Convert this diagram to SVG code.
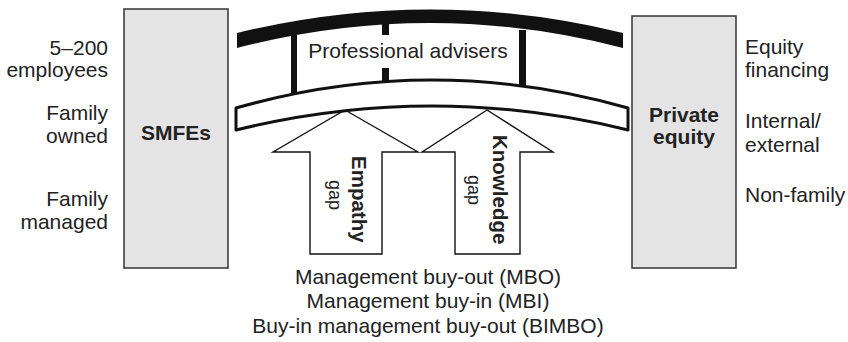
<svg xmlns="http://www.w3.org/2000/svg" width="848" height="342" viewBox="0 0 848 342">
  <style>
    .lbl { font-family: "Liberation Sans", Arial, sans-serif; font-size: 21px; fill: #222; }
    .bold { font-weight: bold; }
    .end { text-anchor: end; }
    .mid { text-anchor: middle; }
    .box { fill: #e4e4e4; stroke: #333; stroke-width: 1.5; }
    .arrow { fill: #fff; stroke: #111; stroke-width: 1.4; stroke-linejoin: miter; }
    .pillar { fill: #111; }
  </style>
  <rect width="848" height="342" fill="#fff"/>

  <!-- SMFE side -->
  <g id="smfes">
    <rect class="box" x="124" y="9" width="104" height="259"/>
    <text class="lbl bold mid" x="176" y="140">SMFEs</text>
  </g>
  <g id="smfe-traits">
    <text class="lbl end" x="108" y="55">5–200</text>
    <text class="lbl end" x="108" y="77">employees</text>
    <text class="lbl end" x="108" y="120">Family</text>
    <text class="lbl end" x="108" y="143">owned</text>
    <text class="lbl end" x="108" y="206">Family</text>
    <text class="lbl end" x="108" y="229">managed</text>
  </g>

  <!-- Private equity side -->
  <g id="private-equity">
    <rect class="box" x="632" y="16" width="104" height="252"/>
    <text class="lbl bold mid" x="684" y="122">Private</text>
    <text class="lbl bold mid" x="684" y="144">equity</text>
  </g>
  <g id="pe-traits">
    <text class="lbl" x="745" y="54">Equity</text>
    <text class="lbl" x="745" y="77">financing</text>
    <text class="lbl" x="745" y="128">Internal/</text>
    <text class="lbl" x="745" y="152">external</text>
    <text class="lbl" x="745" y="202">Non-family</text>
  </g>

  <!-- Gap arrows -->
  <g id="connectors">
    <g id="empathy-gap">
      <path class="arrow" d="M345,110 L418,152 L382,152 L382,254 L310,254 L310,152 L273,152 Z"/>
      <text class="lbl bold" font-size="20.5" transform="translate(352,156) rotate(90)" style="font-size:20.5px">Empathy</text>
      <text class="lbl" transform="translate(329,180) rotate(90)" style="font-size:18px">gap</text>
    </g>
    <g id="knowledge-gap">
      <path class="arrow" d="M487,110 L553,152 L520,152 L520,254 L455,254 L455,152 L422,152 Z"/>
      <text class="lbl bold" transform="translate(492.5,135) rotate(90)" style="font-size:20.5px">Knowledge</text>
      <text class="lbl" transform="translate(468,175) rotate(90)" style="font-size:18px">gap</text>
    </g>
  </g>

  <!-- Professional advisers bridge -->
  <g id="advisers">
    <rect class="pillar" x="291" y="35" width="6" height="60"/>
    <rect class="pillar" x="382" y="15" width="7" height="20"/>
    <rect class="pillar" x="382" y="68" width="7" height="16"/>
    <rect class="pillar" x="519" y="30" width="7" height="60"/>
    <path d="M237,33 Q430,-14 623,33 L623,48 Q430,-2 237,48 Z" fill="#111"/>
    <path d="M236,108 Q432,52 628,108 L628,130 Q432,82 236,130 Z" fill="#fff" stroke="#111" stroke-width="3" stroke-linejoin="round"/>
    <text class="lbl mid" x="408" y="58">Professional advisers</text>
  </g>

  <!-- Buy-out types -->
  <g id="deal-types">
    <text class="lbl mid" x="428" y="284">Management buy-out (MBO)</text>
    <text class="lbl mid" x="428" y="308">Management buy-in (MBI)</text>
    <text class="lbl mid" x="428" y="333">Buy-in management buy-out (BIMBO)</text>
  </g>
</svg>
